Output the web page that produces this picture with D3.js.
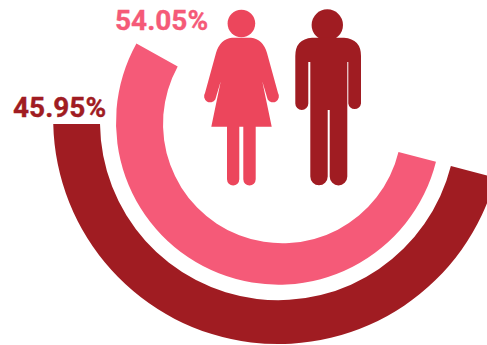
<!DOCTYPE html>
<html>
<head>
<meta charset="utf-8">
<script src="https://cdn.jsdelivr.net/npm/d3@7"></script>
<style>
html,body{margin:0;padding:0;background:#fff;overflow:hidden}
text{font-family:Roboto,sans-serif;font-weight:700}
</style>
</head>
<body>
<svg id="chart" width="487" height="345"></svg>
<script>
const labels = ["54.05%", "45.95%"];
const shares = [54.05, 45.95];
const ringColors = ["#f55a78", "#a01c22"];
const personColors = ["#ec465c", "#a01c22"];

const svg = d3.select("#chart");
const sweep = d3.scaleLinear().domain([0, 100]).range([0, 2 * Math.PI]);

// Each band is bounded by two slightly offset circles; its cut ends are rays from a pivot.
const bands = [
  {outer: {cx: 278.4, cy: 122.3, r: 162.4}, inner: {cx: 282.4, cy: 123.9, r: 119.4}, pivotStart: 122.5, pivotEnd: 120.5},
  {outer: {cx: 278.3, cy: 119, r: 225.1}, inner: {cx: 278.2, cy: 122, r: 178.2}, pivotStart: 124, pivotEnd: 121}
];
const pivotX = 278;
// Both bands finish at the same angle on the right, just below horizontal.
const finish = Math.PI * 14.6 / 180;

// Angle, seen from the circle's own centre, where a ray from the pivot meets the circle.
function hitAngle(circle, py, theta) {
  const dx = Math.cos(theta), dy = Math.sin(theta);
  const ox = pivotX - circle.cx, oy = py - circle.cy;
  const b = ox * dx + oy * dy;
  const t = -b + Math.sqrt(b * b - (ox * ox + oy * oy - circle.r * circle.r));
  return Math.atan2(oy + t * dy, ox + t * dx);
}
const positive = a => (a < 0 ? a + 2 * Math.PI : a);

bands.forEach((b, i) => {
  const start = finish + sweep(shares[i]);
  const p = d3.path();
  p.arc(b.outer.cx, b.outer.cy, b.outer.r,
    positive(hitAngle(b.outer, b.pivotStart, start)),
    positive(hitAngle(b.outer, b.pivotEnd, finish)), true);
  p.arc(b.inner.cx, b.inner.cy, b.inner.r,
    positive(hitAngle(b.inner, b.pivotEnd, finish)),
    positive(hitAngle(b.inner, b.pivotStart, start)), false);
  p.closePath();
  svg.append("path").attr("fill", ringColors[i]).attr("d", p.toString());
});

svg.append("text").attr("x", 115).attr("y", 30).attr("font-size", 28).attr("fill", ringColors[0])
  .attr("stroke", ringColors[0]).attr("stroke-width", 0.35).text(labels[0]);
svg.append("text").attr("x", 13).attr("y", 117).attr("font-size", 28).attr("fill", ringColors[1])
  .attr("stroke", ringColors[1]).attr("stroke-width", 0.35).text(labels[1]);

// Pictogram figures.
const woman = svg.append("g").attr("fill", personColors[0]);
woman.append("circle").attr("cx", 241.4).attr("cy", 23.5).attr("r", 13.8);
woman.append("path").attr("d",
  "M232 37.7 L251 37.7 Q263 39 267 53 L278 93 A6 6 0 0 1 267.7 99.5 L255.7 59.3 L257.7 59.3 L271.7 126.7 " +
  "L255.7 126.7 L255.7 179.3 A6 6 0 0 1 243.3 179.3 L243.3 126.7 L239.3 126.7 L239.3 179.3 A6 6 0 0 1 227 179.3 L227 126.7 " +
  "L211.3 126.7 L225.3 59.3 L227.3 59.3 L215.3 99.5 A6 6 0 0 1 205 93 L216 53 Q220 39 232 37.7Z");
const man = svg.append("g").attr("fill", personColors[1]);
man.append("circle").attr("cx", 327.3).attr("cy", 25).attr("r", 15.7);
man.append("path").attr("d",
  "M312 37.7 L344 37.7 Q361 39 361 56 L361 103.5 A6.4 6.4 0 0 1 348.3 103.5 L348.3 62 L347.3 62 L347.3 176.6 A8.7 8.7 0 0 1 329.7 176.6 " +
  "L329.7 110 L327.7 110 L327.7 176.6 A8.7 8.7 0 0 1 310.3 176.6 L310.3 62 L308.3 62 L308.3 103.5 A6.5 6.5 0 0 1 295.3 103.5 L295.3 56 Q295.3 39 312 37.7Z");
</script>
</body>
</html>
